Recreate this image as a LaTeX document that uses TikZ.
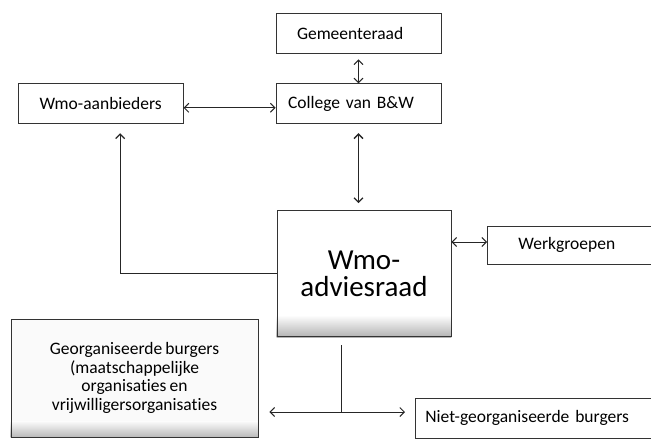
\documentclass[tikz,border=0pt]{standalone}
\usepackage{fontspec}
\setmainfont{Carlito}[Ligatures=NoCommon, WordSpace=0.8]
\usetikzlibrary{positioning}
\usetikzlibrary{arrows.meta}
\usetikzlibrary{backgrounds}

\begin{document}
\begin{tikzpicture}[x=1pt,y=-1pt]
\tikzset{box/.style={rectangle, draw=black!80, line width=0.8pt, minimum height=40pt, font=\fontsize{17.5}{18.5}\selectfont}}
\tikzset{link/.style={line width=1pt, draw=black!85}}
\tikzset{>={Straight Barb[length=4.5pt,width=9pt]}}
\clip (0,0) rectangle (651,439);
\node[box, minimum width=165pt, text width=123pt, inner xsep=21pt, align=left] (gemeenteraad) at (358.5,33) {Gemeenteraad};
\node[box, text width=141pt, inner xsep=12pt, align=left, below=30pt of gemeenteraad] (college) {College van B\&W};
\node[box, minimum width=165pt, left=92pt of college] (aanbieders) {Wmo-aanbieders};
\node[box, minimum width=174pt, minimum height=126pt, align=center, font=\fontsize{29}{27}\selectfont, below=86pt of college, xshift=5.5pt] (adviesraad) {Wmo-\\adviesraad};
\node[box, minimum height=38pt, text width=220pt, inner xsep=31pt, align=left, anchor=west] (werkgroepen) at (487,245) {Werkgroepen};
\node[box, text width=260pt, inner xsep=10pt, align=left, anchor=west] (nietgeorg) at (415,418) {Niet-georganiseerde burgers};
\node[box, minimum width=247pt, minimum height=118pt, align=center] (georg) at (134.5,378) {Georganiseerde burgers\\(maatschappelijke\\organisaties en\\vrijwilligersorganisaties};
\coordinate (split) at (341,412);
\coordinate (werkin) at ([yshift=3pt]werkgroepen.west);

\draw[link,<->,shorten <=6pt] (gemeenteraad.south) -- (college.north);
\draw[link,<->] ([yshift=-4pt]aanbieders.east) -- ([yshift=-4pt]college.west);
\draw[link,<->,line width=1.3pt,shorten <=9pt,shorten >=7pt] (college.south) -- (college.south |- adviesraad.north);
\draw[link,->,line width=1.3pt,shorten >=9pt] (adviesraad.west) -| ([xshift=19.5pt]aanbieders.south);
\draw[link,<->] (werkin -| adviesraad.east) -- (werkin);
\draw[link,shorten <=8pt] ([xshift=-23pt]adviesraad.south) -- (split);
\draw[link,<->,shorten <=11pt,shorten >=10pt] (georg.east |- split) -- (split -| nietgeorg.west);

\begin{scope}[on background layer]
\fill[top color=white,bottom color=black!30] ([yshift=22pt]adviesraad.south west) rectangle (adviesraad.south east);
\fill[black!2] (georg.north west) rectangle (georg.south east);
\fill[top color=black!2,bottom color=black!28] ([yshift=16pt]georg.south west) rectangle (georg.south east);
\end{scope}
\end{tikzpicture}
\end{document}
